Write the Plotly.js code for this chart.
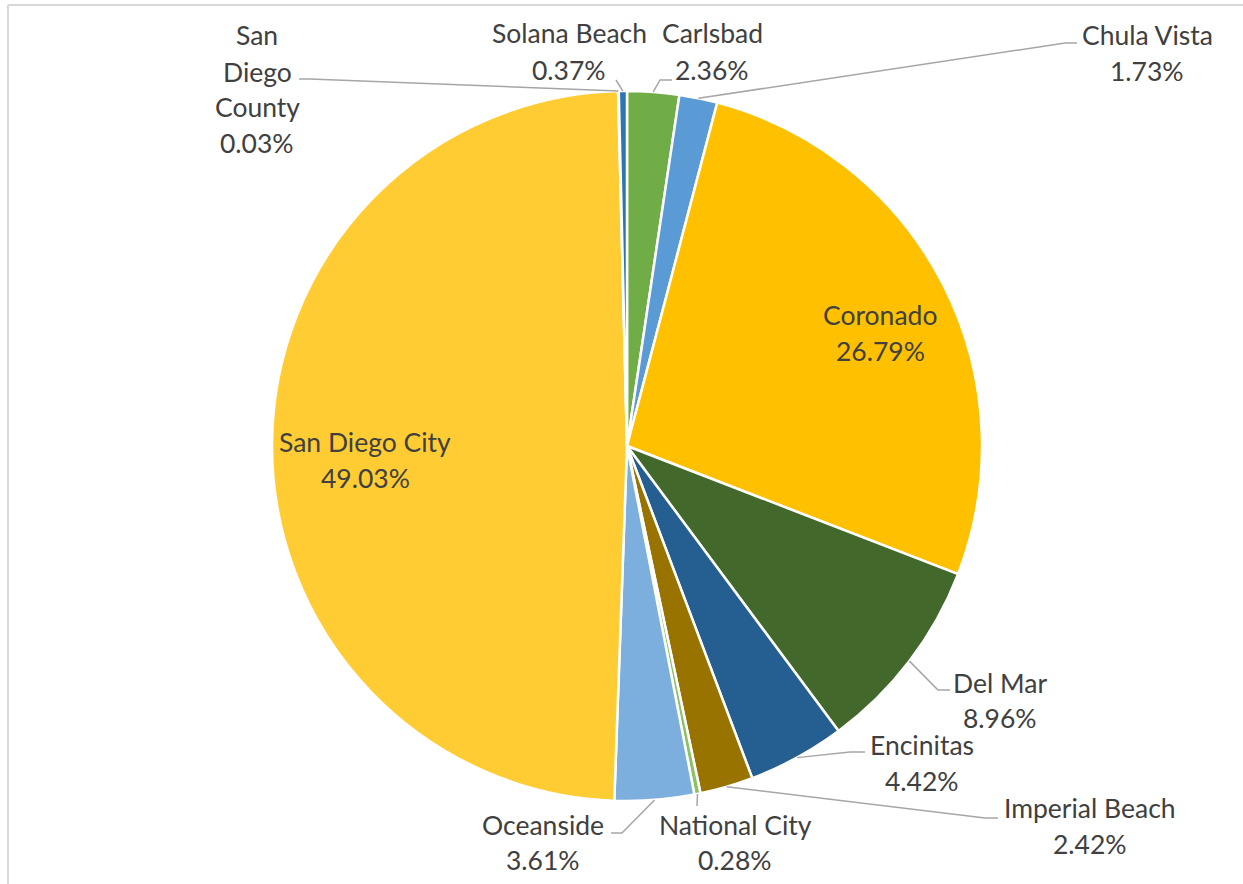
<!DOCTYPE html>
<html>
<head>
<meta charset="utf-8">
<script src="https://cdn.plot.ly/plotly-3.0.1.min.js"></script>
<style>
  html, body { margin: 0; padding: 0; background: #ffffff; }
  #chart { width: 1243px; height: 884px; }
</style>
</head>
<body>
<div id="chart"></div>
<script>
// ---- data ----
const cities = ['Carlsbad', 'Chula Vista', 'Coronado', 'Del Mar', 'Encinitas', 'Imperial Beach',
                'National City', 'Oceanside', 'San Diego City', 'San Diego County', 'Solana Beach'];
const shares = [2.36, 1.73, 26.79, 8.96, 4.42, 2.42, 0.28, 3.61, 49.03, 0.03, 0.37];
const sliceColors = ['#70AD47', '#5B9BD5', '#FFC000', '#43682B', '#255E91', '#997300',
                     '#8CC168', '#7CAFDD', '#FFCD33', '#548235', '#2E75B6'];

// ---- layout geometry (pixels) ----
const W = 1243, H = 884;
const CX = 627, CY = 446, R = 355;
const FONT = { family: 'Lato, "Open Sans", sans-serif', size: 26.5, color: '#404040' };
const LEADER = '#A6A6A6';

// label placement: text line centers (px) and leader-line waypoints (px)
const labelPlacement = {
  'Carlsbad':        { x: 712,  y: [33, 70],  via: [[660, 80], [672, 80]] },
  'Chula Vista':     { x: 1147, y: [35, 71],  via: [[1065, 43], [1077, 43]] },
  'Coronado':        { x: 880,  y: [315, 351] },
  'Del Mar':         { x: 1000, y: [683, 718], via: [[938, 690], [950, 690]] },
  'Encinitas':       { x: 922,  y: [745, 781], via: [[850, 752], [865, 752]] },
  'Imperial Beach':  { x: 1090, y: [808, 844], via: [[985, 818], [998, 818]] },
  'National City':   { x: 735,  y: [825, 860], via: [[697, 806]] },
  'Oceanside':       { x: 543,  y: [825, 860], via: [[622, 833], [611, 833]] },
  'San Diego City':  { x: 365,  y: [442, 478] },
  'San Diego County':{ x: 257,  y: [35, 72, 107, 143], wrap: true, via: [[310, 79], [299, 79]] },
  'Solana Beach':    { x: 569,  y: [33, 70],  via: [[616, 80]] }
};

const px = x => x / W;
const py = y => 1 - y / H;

const total = shares.reduce((a, b) => a + b, 0);
function rimPoint(i) {
  let before = 0;
  for (let k = 0; k < i; k++) before += shares[k];
  const frac = (before + shares[i] / 2) / total;
  const ang = frac * 2 * Math.PI; // clockwise from 12 o'clock
  return [CX + R * Math.sin(ang), CY - R * Math.cos(ang)];
}

const annotations = [];
const shapes = [];

cities.forEach((name, i) => {
  const p = labelPlacement[name];
  const pct = shares[i].toFixed(2) + '%';
  const lines = (p.wrap ? name.split(' ') : [name]).concat([pct]);
  lines.forEach((t, j) => {
    annotations.push({
      text: t, showarrow: false, xref: 'paper', yref: 'paper',
      x: px(p.x), y: py(p.y[j]), xanchor: 'center', yanchor: 'middle',
      font: FONT
    });
  });
  if (p.via) {
    const start = rimPoint(i);
    let path = 'M ' + px(start[0]) + ',' + py(start[1]);
    p.via.forEach(v => { path += ' L ' + px(v[0]) + ',' + py(v[1]); });
    shapes.push({ type: 'path', xref: 'paper', yref: 'paper', path: path,
                  line: { color: LEADER, width: 1.5 } });
  }
});

// chart-area border (top and left edges visible)
shapes.push({ type: 'line', xref: 'paper', yref: 'paper', x0: px(8), x1: px(W + 5), y0: py(5), y1: py(5),
              line: { color: '#D9D9D9', width: 2 } });
shapes.push({ type: 'line', xref: 'paper', yref: 'paper', x0: px(8), x1: px(8), y0: py(5), y1: py(H + 5),
              line: { color: '#D9D9D9', width: 2 } });

const trace = {
  type: 'pie',
  labels: cities,
  values: shares,
  sort: false,
  direction: 'clockwise',
  rotation: 0,
  textinfo: 'none',
  hoverinfo: 'label+percent',
  marker: { colors: sliceColors, line: { color: '#FFFFFF', width: 2.5 } },
  domain: { x: [(CX - R) / W, (CX + R) / W], y: [1 - (CY + R) / H, 1 - (CY - R) / H] },
  showlegend: false
};

const layout = {
  width: W, height: H,
  margin: { l: 0, r: 0, t: 0, b: 0 },
  paper_bgcolor: '#FFFFFF',
  showlegend: false,
  annotations: annotations,
  shapes: shapes
};

Plotly.newPlot('chart', [trace], layout, { displayModeBar: false, staticPlot: true });
</script>
</body>
</html>
